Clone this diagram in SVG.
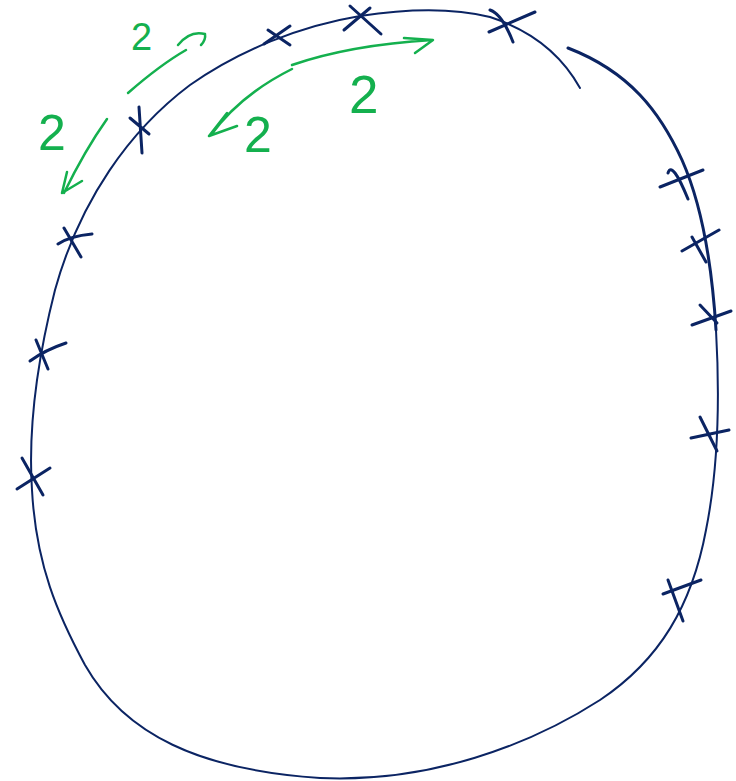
<svg xmlns="http://www.w3.org/2000/svg" width="736" height="781" viewBox="0 0 736 781">
<style>
.ring{fill:none;stroke:#0b2463;stroke-width:2;stroke-linecap:round}
.x{fill:none;stroke:#0b2463;stroke-width:3;stroke-linecap:round}
.g{fill:none;stroke:#14b04e;stroke-width:2.5;stroke-linecap:round;stroke-linejoin:round}
.t{fill:#14b04e;font-family:"Liberation Sans","DejaVu Sans",sans-serif}
</style>
<rect width="736" height="781" fill="#fff"/>
<g id="ring">
<path class="ring" d="M580,88 C560,52 530,30 490,17 C450,7 405,9 360,16 C300,26 240,50 190,85 C130,130 80,200 55,290 C36,365 28,430 32,490 C36,565 58,615 85,665 C125,735 200,770 320,778 C430,783 530,745 600,700 C660,660 692,605 706,530 C718,470 720,400 716,330"/>
<path class="ring" style="stroke-width:3" d="M716,330 C712,265 702,205 682,160 C660,112 630,72 568,48"/>
</g>
<g id="marks">
<path class="x" d="M264,44 L290,26 M268,30 L290,45"/>
<path class="x" d="M344,30 L370,8 M350,6 L381,34"/>
<path class="x" d="M489,32 L535,12 M490,10 Q502,14 513,42"/>
<path class="x" d="M139,107 L142,153 M130,118 L149,134"/>
<path class="x" d="M58,244 Q70,236 92,234 M64,228 L81,257"/>
<path class="x" d="M30,361 Q45,350 66,343 M36,340 L48,369"/>
<path class="x" d="M17,489 L50,468 M22,458 L43,495"/>
<path class="x" d="M660,187 L703,170 M668,173 Q672,160 688,199"/>
<path class="x" d="M682,251 L719,230 M692,237 L706,262"/>
<path class="x" d="M692,325 L731,311 M700,305 L717,323"/>
<path class="x" d="M691,438 L729,430 M700,417 L717,451"/>
<path class="x" d="M663,594 L701,580 M668,580 L683,621"/>
</g>
<g id="annotations">
<path class="g" d="M128,93 Q160,65 186,50"/>
<path class="g" d="M178,45 Q190,30 205,34 Q206,40 201,45"/>
<path class="g" d="M107,119 Q85,150 64,193 M67,172 L62,193 L82,181"/>
<path class="g" d="M292,69 Q240,95 211,135 M227,113 L209,136 L237,126"/>
<path class="g" d="M292,65 Q350,45 432,40 M404,38 L433,40 L415,53"/>
<text class="t" x="131" y="50" font-size="38">2</text>
<text class="t" x="38" y="150" font-size="50">2</text>
<text class="t" x="244" y="152" font-size="50">2</text>
<text class="t" x="349" y="113" font-size="53">2</text>
</g>
</svg>
